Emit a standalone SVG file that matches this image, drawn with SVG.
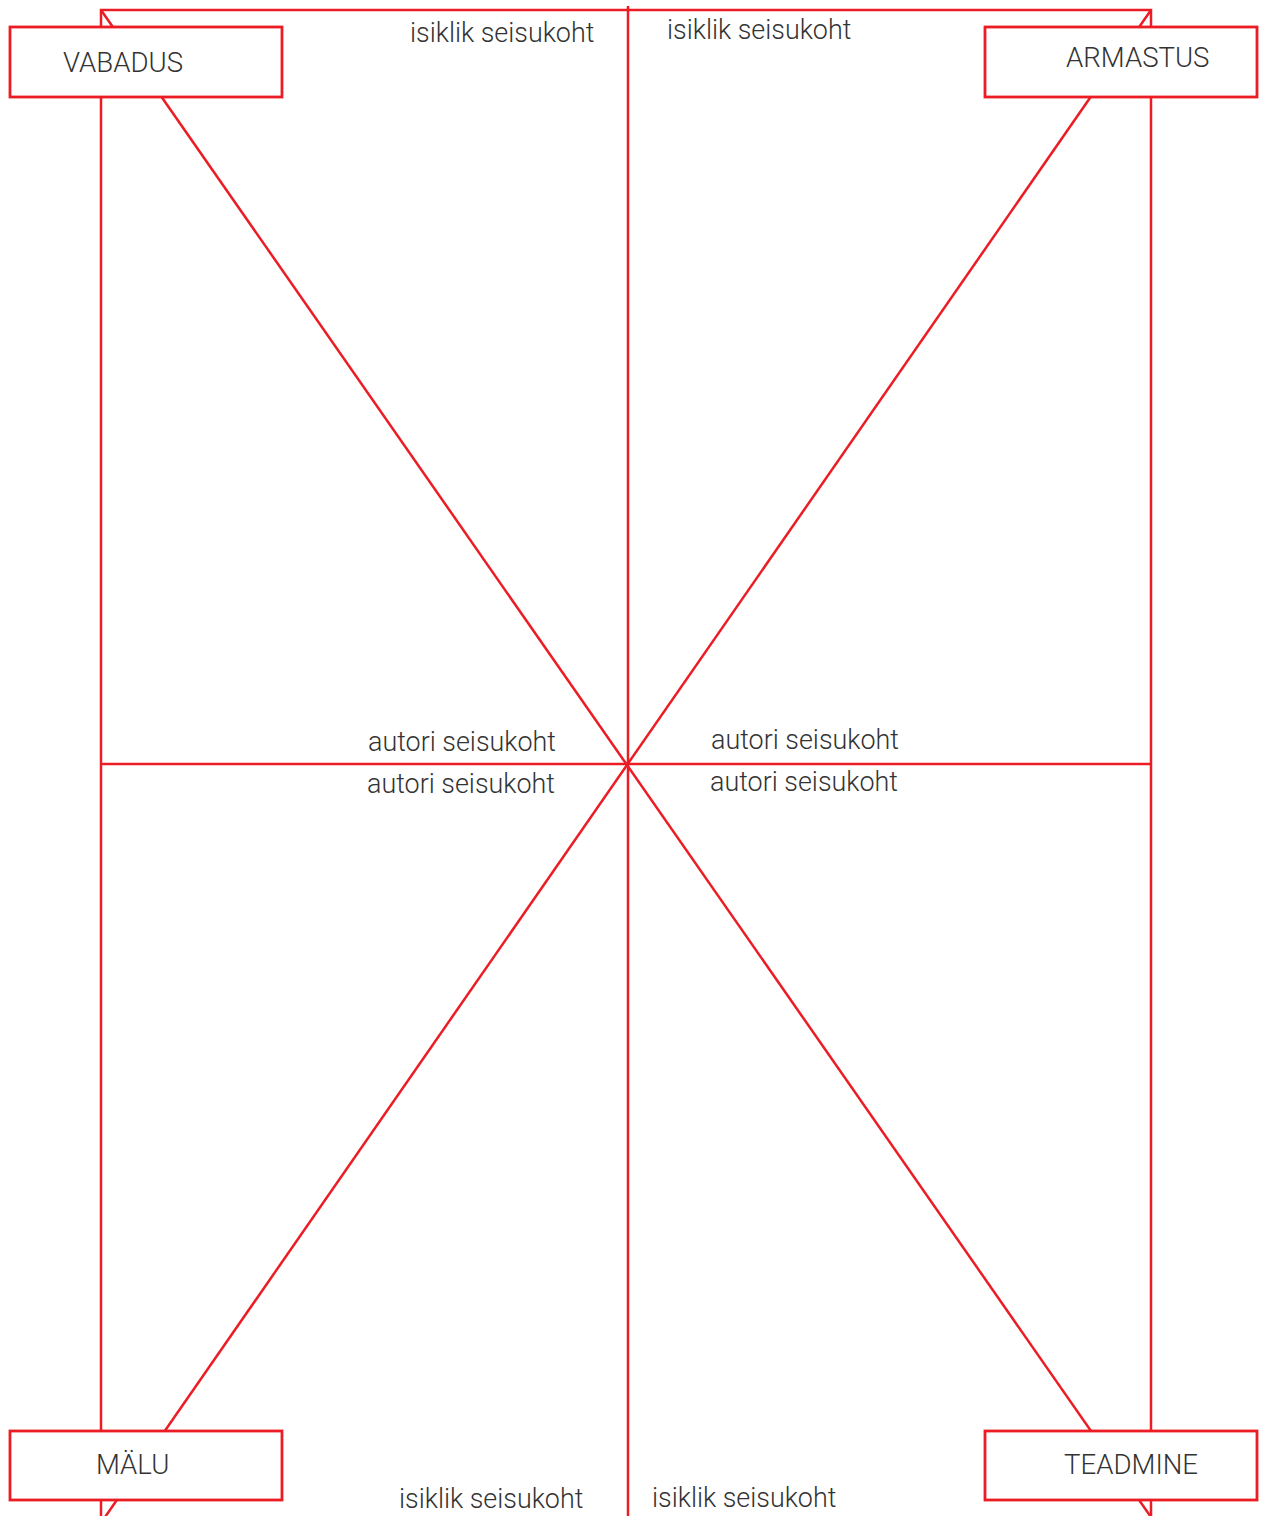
<svg xmlns="http://www.w3.org/2000/svg" width="1262" height="1516" viewBox="0 0 1262 1516">
<style>
.ln{stroke:#ec1c24;stroke-width:2.5;fill:none}
.box{stroke:#ec1c24;stroke-width:2.8;fill:#fff}
.t{font-family:Roboto,"Liberation Sans",sans-serif;font-weight:300;font-size:26.9px;fill:#333}
.n{font-family:Roboto,"Liberation Sans",sans-serif;font-weight:300;font-size:27.6px;fill:#333}
</style>
<rect width="1262" height="1516" fill="#fff"/>
<g id="connectors">
<polyline class="ln" points="101,1520 101,10 1151,10 1151,1520"/>
<line class="ln" x1="628" y1="6" x2="628" y2="1516"/>
<line class="ln" x1="101" y1="764" x2="1151" y2="764"/>
<line class="ln" x1="101" y1="10" x2="1153" y2="1520"/>
<line class="ln" x1="1151" y1="10" x2="103" y2="1520"/>
</g>
<g id="labels">
<text class="t" x="410" y="42">isiklik seisukoht</text>
<text class="t" x="667" y="39">isiklik seisukoht</text>
<text class="t" x="399" y="1508">isiklik seisukoht</text>
<text class="t" x="652" y="1507">isiklik seisukoht</text>
<text class="t" x="368" y="751">autori seisukoht</text>
<text class="t" x="711" y="749">autori seisukoht</text>
<text class="t" x="367" y="793">autori seisukoht</text>
<text class="t" x="710" y="791">autori seisukoht</text>
</g>
<g id="vabadus">
<rect class="box" x="10" y="27" width="272" height="70"/>
<text class="n" x="63" y="72">VABADUS</text>
</g>
<g id="armastus">
<rect class="box" x="985" y="27" width="272" height="70"/>
<text class="n" x="1066" y="67">ARMASTUS</text>
</g>
<g id="malu">
<rect class="box" x="10" y="1431" width="272" height="69"/>
<text class="n" x="96" y="1474">MÄLU</text>
</g>
<g id="teadmine">
<rect class="box" x="985" y="1431" width="272" height="69"/>
<text class="n" x="1064" y="1474">TEADMINE</text>
</g>
</svg>
